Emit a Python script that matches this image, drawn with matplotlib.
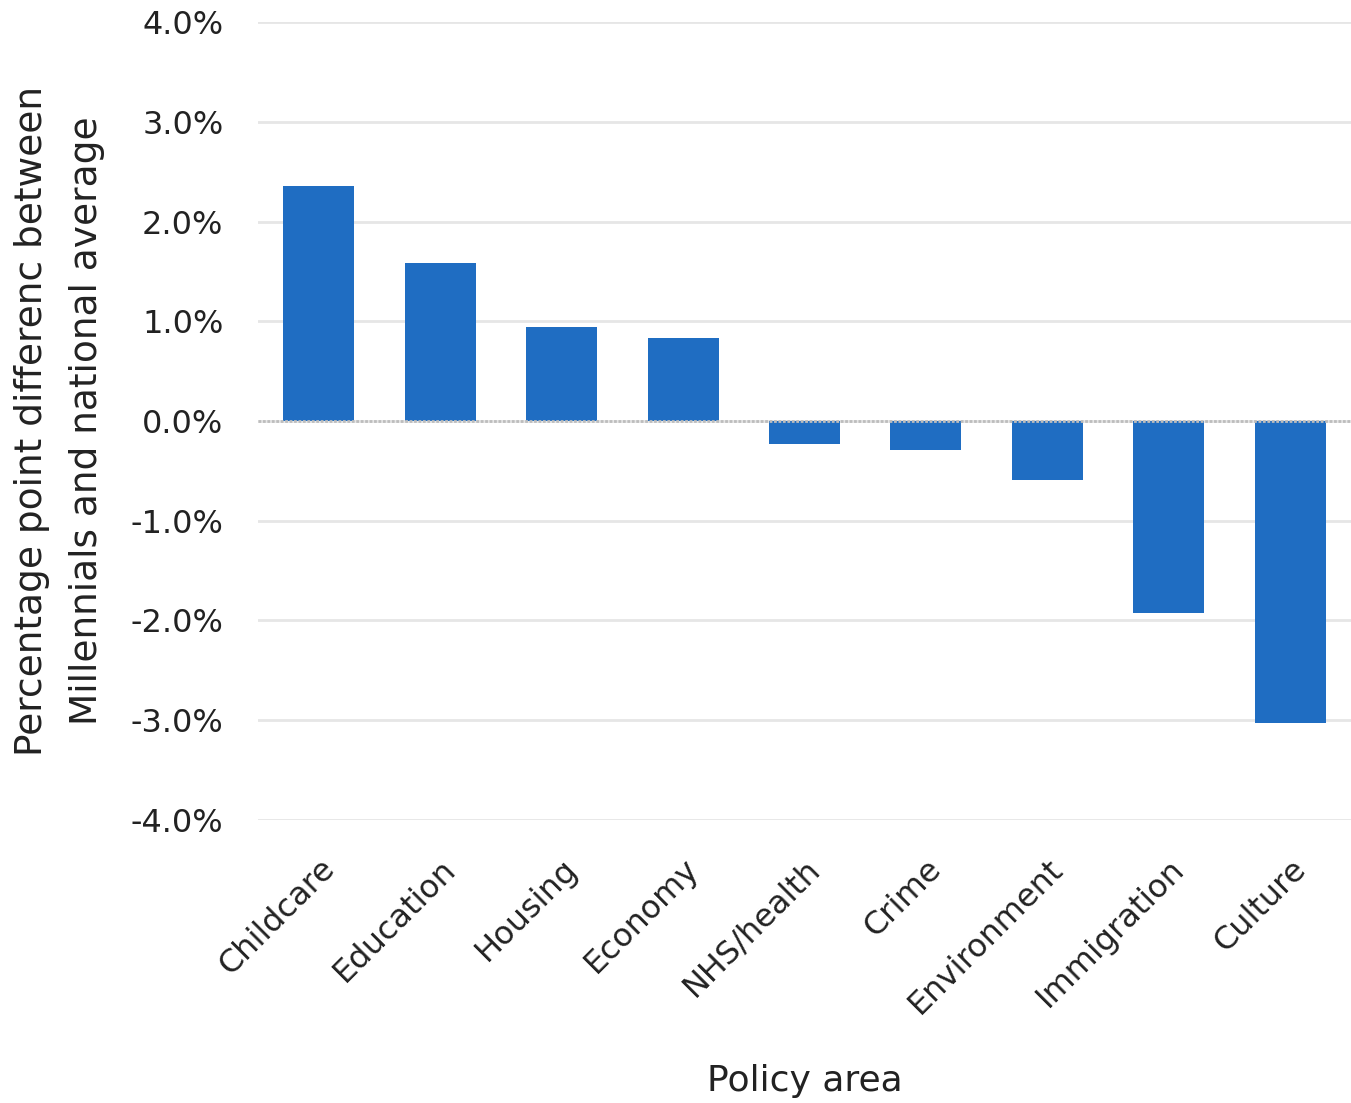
import matplotlib
matplotlib.use("Agg")
import matplotlib.pyplot as plt
from matplotlib.ticker import FuncFormatter

categorias = ["Childcare", "Education", "Housing", "Economy", "NHS/health",
              "Crime", "Environment", "Immigration", "Culture"]
diferencias = [2.36, 1.58, 0.94, 0.83, -0.23, -0.29, -0.59, -1.92, -3.03]
ticks_y = [-4, -3, -2, -1, 0, 1, 2, 3, 4]

plt.rcParams['font.family'] = ['DejaVu Sans']

fig = plt.figure(figsize=(13.51, 11.03), dpi=100)
ax = fig.add_axes([0.191, 0.2566, 0.809, 0.7234])

ax.bar(range(len(categorias)), diferencias, width=0.585, color='#1f6dc2', zorder=3)

ax.set_xlim(-0.5, len(categorias) - 0.5)
ax.set_ylim(-4, 4)
ax.set_yticks(ticks_y)
ax.yaxis.set_major_formatter(FuncFormatter(lambda v, p: "%.1f%%" % v))
ax.grid(axis='y', color='#e6e6e6', linewidth=2, zorder=0)
ax.axhline(0, color='#bdbdbd', linewidth=2, linestyle=(0, (1, 0.6)), zorder=4)

for s in ax.spines.values():
    s.set_visible(False)
ax.tick_params(axis='both', length=0, labelsize=23, colors='#222222')
ax.tick_params(axis='y', pad=25)
ax.tick_params(axis='x', pad=24)

ax.set_xticks(range(len(categorias)))
ax.set_xticklabels(categorias, rotation=45, ha='right', rotation_mode='anchor')

ax.set_ylabel("Percentage point differenc between\nMillennials and national average",
              fontsize=27, color='#222222', labelpad=18, linespacing=1.7)
ax.set_xlabel("Policy area", fontsize=26, color='#222222', labelpad=32)

fig.savefig("out.png", dpi=100)
